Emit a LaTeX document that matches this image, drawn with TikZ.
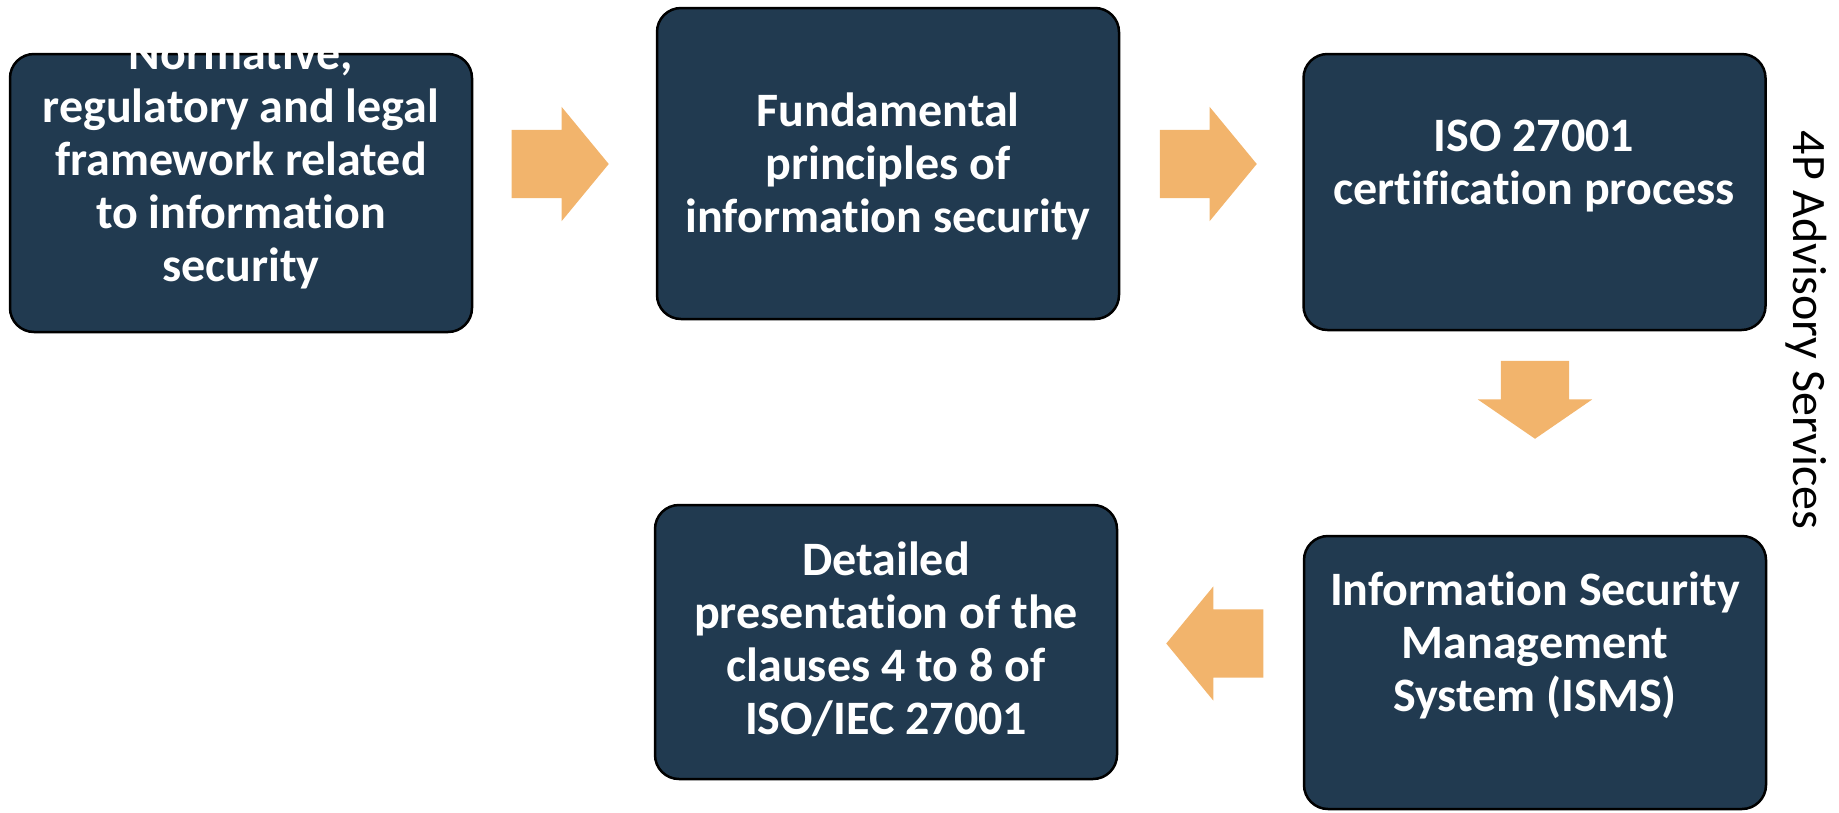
\documentclass[tikz,border=0pt]{standalone}
\usepackage{fontspec}
\setmainfont{Carlito}[Ligatures=NoCommon]
\usepackage{tikz}
\usetikzlibrary{shapes,arrows,calc}
\definecolor{navy}{HTML}{213A50}
\definecolor{peach}{HTML}{F2B46C}
\tikzstyle{block} = [draw=black, line width=2.5pt, fill=navy, rectangle, rounded corners=24pt, minimum width=462pt, inner sep=0pt]
\tikzstyle{blocktext} = [text=white, font=\bfseries\fontsize{48}{53}\selectfont, align=center, inner sep=0pt]
\tikzstyle{fatarrow} = [single arrow, fill=peach, draw=none, inner xsep=0pt, inner ysep=34pt, single arrow head extend=23pt, single arrow tip angle=101, minimum height=97pt]

\begin{document}
\begin{tikzpicture}[x=1pt, y=-1pt]
        \useasboundingbox (0,0) rectangle (1839,812);
        % boxes
        \node[block, minimum height=278pt] (frame) at (241,193) {};
        \node[block, minimum height=311pt] (principles) at (888,163.5) {};
        \node[block, minimum height=276pt] (cert) at (1534.5,192) {};
        \node[block, minimum height=273pt] (isms) at (1535,672.5) {};
        \node[block, minimum height=274pt] (clauses) at (886,642) {};
        % texts
        \begin{scope}
            \clip (frame.north west) rectangle (frame.south east);
            \node[blocktext] (frametxt) at (241,162) {Normative,\\regulatory and legal\\framework related\\to information\\security};
        \end{scope}
        \node[blocktext] (principlestxt) at (888,166.5) {Fundamental\\principles of\\information security};
        \node[blocktext] (certtxt) at (1534,166.5) {ISO 27001\\certification process};
        \node[blocktext] (ismstxt) at (1535,645.5) {Information Security\\Management\\System (ISMS)};
        \node[blocktext] (clausestxt) at (886,639) {Detailed\\presentation of the\\clauses 4 to 8 of\\ISO/IEC 27001};
        % arrows
        \node[fatarrow, anchor=tip] (arrowa) at (609,164) {};
        \node[fatarrow, anchor=tip] (arrowb) at (1257,164) {};
        \node[fatarrow, anchor=tip, rotate=-90, minimum height=78pt, single arrow tip angle=111] (arrowc) at (1535,439) {};
        \node[fatarrow, anchor=tip, shape border rotate=180] (arrowd) at (1166,643.5) {};
        \node[font=\fontsize{48}{53}\selectfont, rotate=-90] (brand) at (1806,330) {4P Advisory Services};
    \end{tikzpicture}
\end{document}
